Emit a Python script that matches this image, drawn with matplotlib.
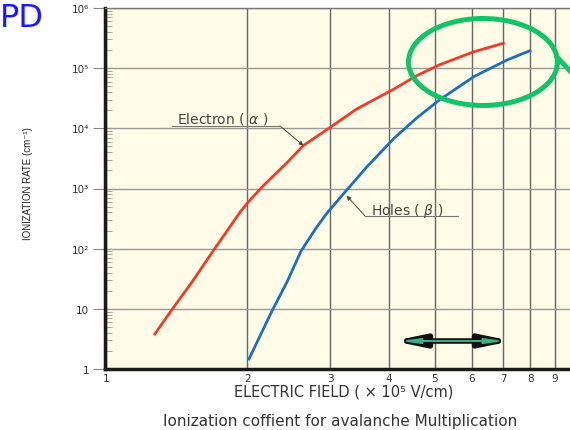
import numpy as np
import matplotlib.pyplot as plt
from matplotlib.patches import Ellipse, FancyArrowPatch
from matplotlib.lines import Line2D
from matplotlib.ticker import FixedLocator, LogLocator, NullFormatter, NullLocator

# electron / hole ionization rates (x in 1e5 V/cm, rate in 1/cm)
field_e = [1.271, 1.375, 1.524, 1.690, 1.928, 2.005, 2.161, 2.424, 2.630, 2.953,
           3.415, 4.101, 4.581, 5.111, 6.067, 7.003]
alpha = [3.82, 9.21, 27.9, 91.4, 402, 589, 1112, 2652, 5182, 9550,
         20950, 45030, 74950, 1.128e5, 1.877e5, 2.588e5]

field_h = [2.015, 2.255, 2.427, 2.600, 2.798, 2.953, 3.225, 3.587, 4.101, 4.581,
           5.111, 6.067, 7.131, 7.98]
beta = [1.47, 9.21, 27.9, 91.4, 220, 391, 874, 2277, 6830, 14840,
        29330, 72600, 1.366e5, 1.95e5]

x_ticks = [1, 2, 3, 4, 5, 6, 7, 8, 9, 10]
x_labels = ['1', '2', '3', '4', '5', '6', '7', '8', '9', '10']
y_ticks = [1, 10, 1e2, 1e3, 1e4, 1e5, 1e6]
y_labels = ['1', '10', '10²', '10³', '10⁴', '10⁵', '10⁶']

W, H = 570, 431
fx = lambda px: px / W
fy = lambda py: 1 - py / H

plt.rcParams['font.family'] = ['DejaVu Sans']

fig = plt.figure(figsize=(5.7, 4.31), dpi=100)
fig.patch.set_facecolor('white')
ax = fig.add_axes([fx(105), 61 / H, 490.5 / W, 361 / H])
ax.set_facecolor('#fefbe6')

ax.plot(field_e, alpha, color='#ee3b2b', lw=2, zorder=3, solid_joinstyle='round')
ax.plot(field_h, beta, color='#1b6ec2', lw=2, zorder=3, solid_joinstyle='round')

ax.set_xscale('log')
ax.set_yscale('log')
ax.set_xlim(0.9951, 11)
ax.set_ylim(1, 1e6)

ax.xaxis.set_major_locator(FixedLocator(x_ticks))
ax.set_xticklabels(x_labels)
ax.xaxis.set_minor_locator(NullLocator())
ax.yaxis.set_major_locator(FixedLocator(y_ticks))
ax.set_yticklabels(y_labels)
ax.yaxis.set_minor_locator(LogLocator(base=10, subs=np.arange(2, 10)))
ax.yaxis.set_minor_formatter(NullFormatter())

ax.tick_params(axis='x', length=0, pad=3, labelsize=7.5, labelcolor='#333')
ax.tick_params(axis='y', which='major', direction='out', length=8.5, width=0.8,
               color='#888', pad=3, labelsize=7.5, labelcolor='#333')
ax.tick_params(axis='y', which='minor', direction='in', length=5, width=0.6, color='#999')

ax.grid(True, which='major', axis='x', color='#666', lw=1.0, zorder=1)
ax.grid(True, which='major', axis='y', color='#999', lw=1.0, zorder=1)

for s in ['left', 'bottom']:
    ax.spines[s].set_linewidth(2.5)
    ax.spines[s].set_color('#1a1a1a')
ax.spines['top'].set_linewidth(1)
ax.spines['top'].set_color('#777')
ax.spines['right'].set_visible(False)

# labels
fig.text(fx(28), fy(184), 'IONIZATION RATE (cm⁻¹)', rotation=90, ha='center', va='center',
         fontsize=7, color='#222', family=['Liberation Sans Narrow', 'Liberation Sans', 'DejaVu Sans'])
fig.text(fx(344), fy(392), 'ELECTRIC FIELD ( × 10⁵ V/cm)', ha='center', va='center',
         fontsize=10.5, color='#333')
fig.text(fx(340), fy(422), 'Ionization coffient for avalanche Multiplication', ha='center',
         va='center', fontsize=11, color='#333')
fig.text(fx(0), fy(27), 'PD', fontsize=23, color='#1a1aff', va='baseline')

# curve annotations
fig.text(fx(177), fy(124), 'Electron ( $\\alpha$ )', fontsize=10, color='#444', va='baseline')
fig.add_artist(Line2D([fx(172), fx(280)], [fy(127), fy(127)], color='#777', lw=0.8,
                      transform=fig.transFigure))
ax.annotate('', xy=(2.63, 5182), xycoords='data', xytext=(fx(280), fy(127)),
            textcoords='figure fraction',
            arrowprops=dict(arrowstyle='-|>', color='#444', lw=0.7, mutation_scale=6,
                            shrinkA=0, shrinkB=0))

fig.text(fx(371), fy(215), 'Holes ( $\\beta$ )', fontsize=10, color='#444', va='baseline')
fig.add_artist(Line2D([fx(365), fx(458)], [fy(217), fy(217)], color='#777', lw=0.8,
                      transform=fig.transFigure))
ax.annotate('', xy=(3.25, 760), xycoords='data', xytext=(fx(365), fy(217)),
            textcoords='figure fraction',
            arrowprops=dict(arrowstyle='-|>', color='#444', lw=0.7, mutation_scale=6,
                            shrinkA=0, shrinkB=0))

# green highlight
fig.add_artist(Ellipse((fx(483), fy(63)), 149 / W, 87 / H, fill=False, ec='#12c468', lw=3.6,
                       transform=fig.transFigure))
fig.add_artist(Line2D([fx(557), fx(572)], [fy(58), fy(74)], color='#12c468', lw=3.6,
                      transform=fig.transFigure))

# double arrow
fig.add_artist(FancyArrowPatch((fx(393), fy(342)), (fx(512), fy(342)), transform=fig.transFigure,
                               arrowstyle='<|-|>,head_length=1.7,head_width=0.35',
                               mutation_scale=10, lw=4, color='#111', shrinkA=0, shrinkB=0))
fig.add_artist(FancyArrowPatch((fx(400), fy(342)), (fx(505), fy(342)), transform=fig.transFigure,
                               arrowstyle='<|-|>,head_length=1.1,head_width=0.15',
                               mutation_scale=10, lw=1.4, color='#3fae86', shrinkA=0, shrinkB=0))

fig.savefig('out.png', dpi=100)
